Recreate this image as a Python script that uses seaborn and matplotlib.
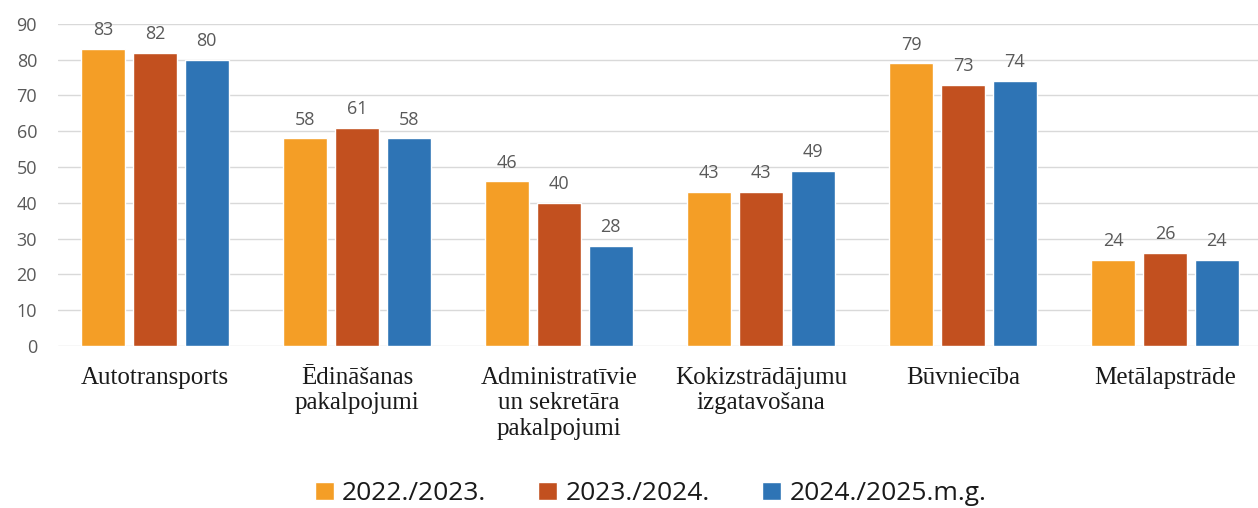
import matplotlib
matplotlib.use("Agg")
import matplotlib.pyplot as plt
import pandas as pd
import seaborn as sns

categories = [
    "Autotransports",
    "Ēdināšanas\npakalpojumi",
    "Administratīvie\nun sekretāra\npakalpojumi",
    "Kokizstrādājumu\nizgatavošana",
    "Būvniecība",
    "Metālapstrāde",
]
years = ["2022./2023.", "2023./2024.", "2024./2025.m.g."]
v_2022 = [83, 58, 46, 43, 79, 24]
v_2023 = [82, 61, 40, 43, 73, 26]
v_2024 = [80, 58, 28, 49, 74, 24]
colors = ["#F49E26", "#C2501F", "#2E74B5"]

df = pd.DataFrame({
    "category": categories * 3,
    "year": [y for y in years for _ in categories],
    "value": v_2022 + v_2023 + v_2024,
})

sns.set_style("white")
plt.rcParams["font.family"] = ["Open Sans", "DejaVu Sans"]

fig = plt.figure(figsize=(12.58, 5.08), dpi=100)
ax = fig.add_axes([0.046, 0.319, 0.954, 0.634])

sns.barplot(data=df, x="category", y="value", hue="year", hue_order=years,
            palette=colors, width=0.77, gap=0.15, saturation=1, ax=ax, legend=True)

for cont in ax.containers:
    ax.bar_label(cont, padding=7, fontsize=13, color="#595959")

ax.set_ylim(0, 90)
ax.set_xlim(-0.48, 5.46)
ax.set_yticks(range(0, 91, 10))
ax.yaxis.grid(True, color="#D9D9D9", linewidth=1)
ax.set_axisbelow(True)
for s in ax.spines.values():
    s.set_visible(False)
ax.tick_params(axis="y", length=0, pad=15, labelsize=13, labelcolor="#595959")
ax.tick_params(axis="x", length=0, pad=15)
for lbl in ax.get_xticklabels():
    lbl.set_fontfamily("Liberation Serif")
    lbl.set_fontsize(18)
    lbl.set_linespacing(1.2)
    lbl.set_color("#1A1A1A")
ax.set_xlabel("")
ax.set_ylabel("")

handles, labels = ax.get_legend_handles_labels()
ax.get_legend().remove()
fig.legend(handles, labels, loc="center", bbox_to_anchor=(0.517, 0.028), ncol=3,
           frameon=False, fontsize=19, handlelength=0.72, handleheight=0.72,
           handletextpad=0.3, columnspacing=2.0, labelcolor="#1A1A1A",
           borderpad=0.2)

fig.savefig("out.png", dpi=100)
